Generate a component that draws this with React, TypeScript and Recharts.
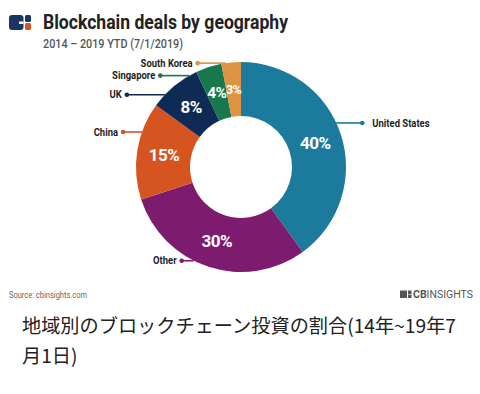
import React from 'react';
import { PieChart, Pie, Cell } from 'recharts';

// ---- data ----
const categories = ['United States', 'Other', 'China', 'UK', 'Singapore', 'South Korea'];
const shares = [40, 30, 15, 8, 4, 3];
const sliceColors = ['#1c7b9c', '#7d1b6e', '#d6541f', '#0f2a55', '#17784c', '#dc9443'];

const titleText = 'Blockchain deals by geography';
const subtitleText = '2014 \u2013 2019 YTD (7/1/2019)';
const sourceText = 'Source: cbinsights.com';
const captionLines = ['地域別のブロックチェーン投資の割合(14年~19年7', '月1日)'];

// ---- layout of the leader lines (degrees clockwise from slice middle, line length px) ----
const anchorShift = [-6.8, 8.8, 10.5, -6.9, -11.5, -3];
const leaderLength = [26, -12, -19, -38, -29, -28];

const data = categories.map((name, i) => ({ name, value: shares[i] }));
const RAD = Math.PI / 180;
const FONT = 'Roboto, "Noto Sans", sans-serif';

function pctSize(v: number) {
  if (v < 4) return 12.5;
  if (v < 5) return 15.5;
  return 17;
}

function renderLabel(props: any) {
  const { cx, cy, innerRadius, outerRadius, midAngle, index, value, name } = props;
  const r = (innerRadius + outerRadius) / 2;
  const px = cx + r * Math.cos(-midAngle * RAD);
  const py = cy + r * Math.sin(-midAngle * RAD);
  const a = midAngle - anchorShift[index];
  const ex = cx + outerRadius * Math.cos(-a * RAD);
  const ey = cy + outerRadius * Math.sin(-a * RAD);
  const len = leaderLength[index];
  const dx = ex + len;
  const right = len > 0;
  const color = sliceColors[index];
  const tx = right ? dx + 10 : dx - 5;
  return (
    <g>
      <text
        x={px}
        y={py}
        fill="#fff"
        textAnchor="middle"
        dominantBaseline="central"
        fontFamily={FONT}
        fontWeight={700}
        fontSize={pctSize(value)}
        letterSpacing={-0.5}
      >
        {`${value}%`}
      </text>
      <line x1={ex} y1={ey} x2={dx} y2={ey} stroke={color} strokeWidth={1.6} />
      <circle cx={dx} cy={ey} r={2.3} fill={color} />
      <g transform={`translate(${tx},${ey}) scale(0.86,1)`}>
        <text
          x={0}
          y={0}
          fill="#1e1e1e"
          textAnchor={right ? 'start' : 'end'}
          dominantBaseline="central"
          fontFamily={FONT}
          fontWeight={700}
          fontSize={11}
        >
          {name}
        </text>
      </g>
    </g>
  );
}

export default function App() {
  return (
    <div style={{ position: 'absolute', left: 0, top: 0, width: 480, height: 394, background: '#fff', overflow: 'hidden' }}>
      <div style={{ position: 'absolute', left: 0, top: 0 }}>
        <PieChart width={480} height={310} margin={{ top: 0, right: 0, bottom: 0, left: 0 }}>
          <Pie
            data={data}
            dataKey="value"
            nameKey="name"
            cx={241}
            cy={167}
            innerRadius={51}
            outerRadius={105}
            startAngle={90}
            endAngle={-270}
            stroke="none"
            label={renderLabel}
            labelLine={false}
            isAnimationActive={false}
          >
            {data.map((d, i) => (
              <Cell key={d.name} fill={sliceColors[i]} />
            ))}
          </Pie>
        </PieChart>
      </div>
      <svg width={480} height={310} style={{ position: 'absolute', left: 0, top: 0, pointerEvents: 'none' }}>
        {/* logo */}
        <rect x={9} y={15} width={14.5} height={15} rx={3} fill="#1b3563" />
        <rect x={19} y={21.5} width={4.5} height={2.5} fill="#fff" />
        <rect x={25} y={15} width={6} height={7} rx={1.5} fill="#1b3563" />
        <rect x={25} y={23} width={6} height={7} rx={1.5} fill="#d6541f" />
        <text x={43} y={28.5} fontFamily={FONT} fontWeight={700} fontSize={19.5} fill="#222" textLength={245} lengthAdjust="spacingAndGlyphs">
          {titleText}
        </text>
        <text x={43} y={48} fontFamily={FONT} fontWeight={500} fontSize={12} fill="#555" textLength={140} lengthAdjust="spacingAndGlyphs">
          {subtitleText}
        </text>
        <text x={9} y={298} fontFamily={FONT} fontSize={9.5} fill="#666" textLength={78} lengthAdjust="spacingAndGlyphs">
          {sourceText}
        </text>
        {/* CB Insights footer mark */}
        <rect x={400} y={290.5} width={7} height={7.5} fill="#555" />
        <rect x={408} y={290.5} width={3.5} height={3.5} fill="#555" />
        <rect x={408} y={294.5} width={3.5} height={3.5} fill="#555" />
        <text x={413} y={298} fontFamily={FONT} fontSize={11.5} fill="#555" textLength={60} lengthAdjust="spacingAndGlyphs">
          <tspan fontWeight={700}>CB</tspan>
          <tspan fontWeight={400}>INSIGHTS</tspan>
        </text>
      </svg>
      <div
        style={{
          position: 'absolute',
          left: 22,
          top: 310,
          fontFamily: '"Noto Sans CJK JP", "Noto Sans", sans-serif',
          fontSize: 19.2,
          lineHeight: '30px',
          color: '#222',
          whiteSpace: 'nowrap',
        }}
      >
        {captionLines.map((l) => (
          <div key={l}>{l}</div>
        ))}
      </div>
    </div>
  );
}
